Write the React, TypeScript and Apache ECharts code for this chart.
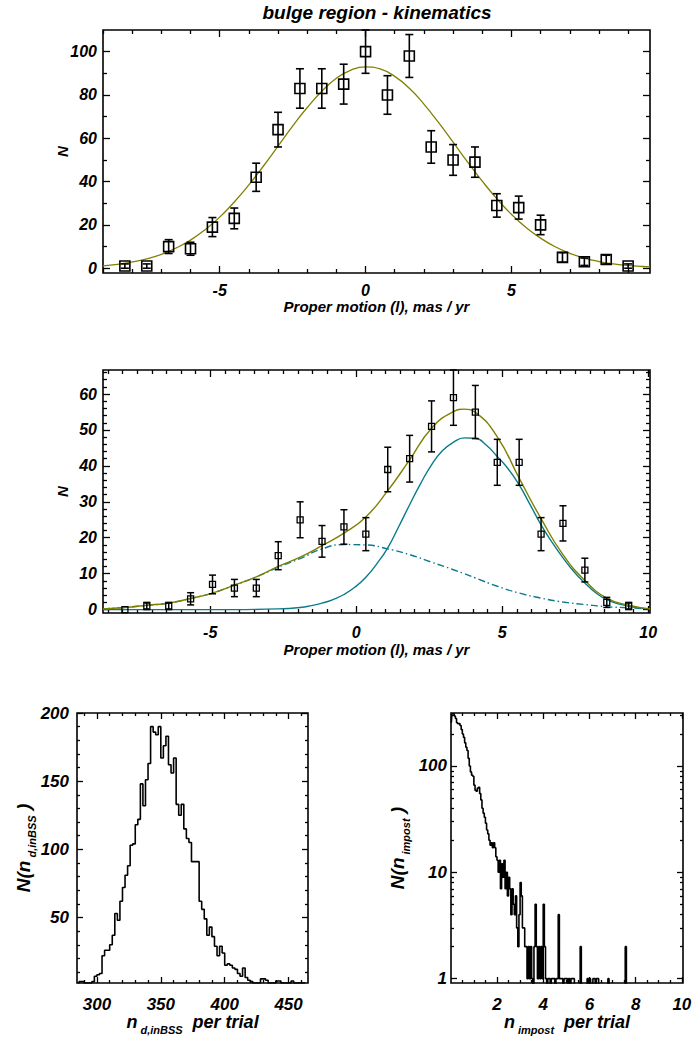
import React, { useEffect, useRef } from "react";
import * as echarts from "echarts";

const FONT = "'Liberation Sans', Helvetica, Arial, sans-serif";
const OLIVE = "#808000";
const TEAL = "#0b7b8b";

// ---------- Top panel: bulge region, proper motion (l) ----------
const topX = [-8.25, -7.5, -6.75, -6, -5.25, -4.5, -3.75, -3, -2.25, -1.5, -0.75, 0, 0.75, 1.5, 2.25, 3, 3.75, 4.5, 5.25, 6, 6.75, 7.5, 8.25, 9];
const topN = [1, 1, 10, 9, 19, 23, 42, 64, 83, 83, 85, 100, 80, 98, 56, 50, 49, 29, 28, 20, 5, 3, 4, 1];
const topErr = [1, 1, 3.2, 3, 4.4, 4.8, 6.5, 8, 9.1, 9.1, 9.2, 10, 8.9, 9.9, 7.5, 7.1, 7, 5.4, 5.3, 4.5, 2.2, 1.7, 2, 1];
const topFitX = [-9, -8.5, -8, -7.5, -7, -6.5, -6, -5.5, -5, -4.5, -4, -3.5, -3, -2.5, -2, -1.5, -1, -0.5, 0, 0.5, 1, 1.5, 2, 2.5, 3, 3.5, 4, 4.5, 5, 5.5, 6, 6.5, 7, 7.5, 8, 8.5, 9, 9.5, 9.75];
const topFitY = [1.1, 1.8, 2.9, 4.3, 6.4, 9.3, 13, 17.8, 23.6, 30.6, 38.5, 47.2, 56.4, 65.6, 74.2, 81.7, 87.7, 91.5, 93, 92, 88.6, 83.1, 75.8, 67.3, 58.2, 49, 40.2, 32.1, 24.9, 18.8, 13.9, 9.9, 6.9, 4.7, 3.1, 2, 1.3, 0.8, 0.6];

// ---------- Middle panel: two-component fit ----------
const midX = [-7.92, -7.17, -6.42, -5.67, -4.92, -4.17, -3.42, -2.67, -1.92, -1.17, -0.42, 0.33, 1.08, 1.83, 2.58, 3.33, 4.08, 4.83, 5.58, 6.33, 7.08, 7.83, 8.58, 9.33];
const midN = [0, 1, 1, 3, 7, 6, 6, 15, 25, 19, 23, 21, 39, 42, 51, 59, 55, 41, 41, 21, 24, 11, 2, 1];
const midErr = [0, 1, 1, 1.7, 2.6, 2.4, 2.4, 3.9, 5, 4.4, 4.8, 4.6, 6.2, 6.5, 7.1, 7.7, 7.4, 6.4, 6.4, 4.6, 4.9, 3.3, 1.4, 1];
const midCurveX = [-8.67, -7.92, -7.17, -6.42, -5.67, -4.92, -4.17, -3.42, -2.67, -1.92, -1.17, -0.42, 0.33, 1.08, 1.83, 2.58, 3.33, 3.7, 4.08, 4.83, 5.58, 6.33, 7.08, 7.83, 8.58, 9.33, 10.06];
const midTotal = [0.2, 0.6, 1.2, 1.8, 3.1, 4.6, 6.8, 9.1, 12.0, 14.6, 17.8, 21.3, 25.8, 33.1, 41.7, 50.5, 55.1, 55.8, 54.9, 48.1, 36.6, 25.3, 15.3, 8.1, 3.2, 1.2, 0.2];
const midBroad = [0.2, 0.6, 1.2, 1.8, 3.1, 4.6, 6.8, 9.1, 11.8, 14.2, 16.9, 18.1, 18.0, 16.9, 15.3, 13.2, 11.1, 10.0, 8.8, 6.5, 4.6, 3.2, 2.1, 1.4, 0.8, 0.5, 0.2];
const midNarrowX = [-8.67, -6.42, -4.17, -2.67, -1.92, -1.54, -1.17, -0.79, -0.42, -0.05, 0.33, 0.71, 1.08, 1.45, 1.83, 2.2, 2.58, 2.95, 3.33, 3.7, 4.08, 4.45, 4.83, 5.2, 5.58, 5.95, 6.33, 6.7, 7.08, 7.45, 7.83, 8.2, 8.58, 9.33, 10.06];
const midNarrow = [0, 0, 0, 0.2, 0.6, 1.1, 1.8, 2.8, 4.2, 6.2, 9.0, 12.8, 17.2, 23, 29.2, 35, 40.3, 44.2, 46.6, 47.8, 47.7, 45.8, 42.6, 39.2, 34.7, 29.3, 23.6, 18.8, 14.4, 10.6, 7.4, 4.7, 2.8, 0.9, 0.2];

// ---------- Bottom-left histogram: n_d,inBSS per trial ----------
const leftBinStart = 284;
const leftBinWidth = 2;
const leftCounts = [
  2, 3, 3, 2, 2, 2, 3, 7, 8, 9,
  22, 26, 26, 30, 37, 53, 48, 62, 72, 81,
  88, 103, 104, 118, 122, 148, 132, 151, 163, 190,
  186, 184, 190, 167, 176, 183, 162, 156, 167, 133,
  125, 133, 115, 108, 105, 91, 91, 91, 62, 56,
  49, 37, 43, 36, 29, 22, 29, 24, 15, 16,
  15, 13, 12, 9, 7, 13, 6, 4, 3, 2,
  2, 2, 5, 5, 4, 2, 2, 2, 3.5, 3.5,
  2, 2, 2, 2, 3.5, 2, 2, 2, 2, 2,
];

// ---------- Bottom-right histogram: n_impost per trial (log) ----------
// empty bins (0 counts) are written as 0.5 so they fall below the log axis floor
const rightBinWidth = 0.05;
const rightCounts = [
  255, 310, 310, 295, 280, 255, 250, 250, 240, 220,
  200, 186, 165, 150, 140, 118, 100, 88, 82, 80,
  66, 59, 58, 62, 63, 55, 48, 40, 36, 33,
  29, 25, 23, 20, 18, 19, 17, 19, 17, 14,
  13, 10, 13, 7, 12, 9, 13, 7, 10, 6,
  9, 7, 4, 7, 5, 4, 6, 3, 2, 4,
  8, 6, 3, 3, 2, 2, 1, 2, 1, 2,
  1, 0.5, 2, 5, 2, 1, 2, 1, 2, 1,
  5, 2, 1, 0.5, 1, 1, 0.5, 1, 1, 1,
  0.5, 1, 1, 4, 1, 1, 1, 0.5, 1, 1,
  1, 0.5, 1, 0.5, 1, 1, 1, 0.5, 0.5, 0.5,
  0.5, 0.5, 2, 0.5, 0.5, 0.5, 0.5, 0.5, 1, 0.5,
  1, 0.5, 0.5, 1, 1, 0.5, 1, 1, 0.5, 0.5,
  0.5, 0.5, 0.5, 0.5, 0.5, 0.5, 1, 0.5, 0.5, 0.5,
  0.5, 0.5, 0.5, 0.5, 0.5, 0.5, 0.5, 0.5, 0.5, 0.5,
  0.5, 2, 0.5, 0.5, 0.5, 0.5, 0.5, 0.5, 0.5, 0.5,
];

// ---------- tick values ----------
const topXMajor = [-5, 0, 5];
const topYMajor = [0, 20, 40, 60, 80, 100];
const midXMajor = [-5, 0, 5, 10];
const midYMajor = [0, 10, 20, 30, 40, 50, 60];
const leftXMajor = [300, 350, 400, 450];
const leftYMajor = [50, 100, 150, 200];
const rightXMajor = [2, 4, 6, 8, 10];
const rightYMajor = [1, 10, 100];
const rightYMinor = [2, 3, 4, 5, 6, 7, 8, 9, 20, 30, 40, 50, 60, 70, 80, 90, 200, 300];

function tickRange(a: number, b: number, d: number, exclude: number[]) {
  const out: number[] = [];
  for (let v = a; v <= b + 1e-9; v += d) {
    const r = Math.round(v * 1000) / 1000;
    if (!exclude.some((e) => Math.abs(e - r) < 1e-6)) out.push(r);
  }
  return out;
}

const TXT = { fontFamily: FONT, fontWeight: "bold", fontStyle: "italic", color: "#000" };

function richName(size: number, subSize: number) {
  return {
    ...TXT,
    fontSize: size,
    rich: {
      m: { ...TXT, fontSize: size, verticalAlign: "top", lineHeight: size + 4 },
      s: { ...TXT, fontSize: subSize, verticalAlign: "bottom" },
    },
  };
}

function buildAxes(dim: "x" | "y", gridIndex: number, s: any) {
  const isX = dim === "x";
  const pos = isX ? ["bottom", "top"] : ["left", "right"];
  const common = {
    gridIndex,
    type: s.type,
    min: s.min,
    max: s.max,
    axisLine: { show: false, onZero: false },
    splitLine: { show: false },
    axisPointer: { show: false },
  };
  const tickStyle = { color: "#000", width: 1.3 };
  const mk = (p: string, values: number[], len: number, main: boolean) => {
    const ax: any = {
      ...common,
      position: p,
      axisTick: { show: true, inside: true, length: len, customValues: values, lineStyle: tickStyle },
      axisLabel: main
        ? {
            show: true,
            customValues: s.labels,
            margin: s.labelMargin,
            ...TXT,
            fontSize: s.labelSize,
            formatter: (v: number) => String(Math.round(v * 1000) / 1000),
          }
        : { show: false },
    };
    if (main && s.name) {
      ax.name = s.name;
      ax.nameLocation = "middle";
      ax.nameGap = s.nameGap;
      ax.nameRotate = isX ? 0 : 90;
      ax.nameTextStyle = s.nameStyle;
      ax.nameMoveOverlap = false;
    }
    return ax;
  };
  return [
    mk(pos[0], s.major, s.majorLen, true),
    mk(pos[0], s.minor, s.minorLen, false),
    mk(pos[1], s.major, s.majorLen, false),
    mk(pos[1], s.minor, s.minorLen, false),
  ];
}

function errorSeries(g: number, xs: number[], ns: number[], es: number[], cap: number, lw: number) {
  return {
    type: "custom",
    xAxisIndex: g * 4,
    yAxisIndex: g * 4,
    silent: true,
    z: 3,
    data: xs.map((x, i) => [x, ns[i], es[i]]),
    encode: { x: 0, y: 1 },
    renderItem: (_params: any, api: any) => {
      const x = api.value(0);
      const y = api.value(1);
      const e = api.value(2);
      if (!e) return { type: "group", children: [] };
      const lo = api.coord([x, y - e]);
      const hi = api.coord([x, y + e]);
      const style = { stroke: "#000", lineWidth: lw, fill: "none" };
      return {
        type: "group",
        children: [
          { type: "line", shape: { x1: lo[0], y1: lo[1], x2: hi[0], y2: hi[1] }, style },
          { type: "line", shape: { x1: lo[0] - cap, y1: lo[1], x2: lo[0] + cap, y2: lo[1] }, style },
          { type: "line", shape: { x1: hi[0] - cap, y1: hi[1], x2: hi[0] + cap, y2: hi[1] }, style },
        ],
      };
    },
  };
}

function squareSeries(g: number, xs: number[], ns: number[], size: number, bw: number) {
  return {
    type: "scatter",
    xAxisIndex: g * 4,
    yAxisIndex: g * 4,
    silent: true,
    z: 4,
    symbol: "rect",
    symbolSize: size,
    data: xs.map((x, i) => [x, ns[i]]),
    itemStyle: { color: "rgba(0,0,0,0)", borderColor: "#000", borderWidth: bw, opacity: 1 },
  };
}

function curveSeries(g: number, xs: number[], ys: number[], color: string, type: any, width: number) {
  return {
    type: "line",
    xAxisIndex: g * 4,
    yAxisIndex: g * 4,
    silent: true,
    z: 2,
    smooth: 0.5,
    symbol: "none",
    data: xs.map((x, i) => [x, ys[i]]),
    lineStyle: { color, width, type },
  };
}

function histSeries(g: number, start: number, width: number, counts: number[]) {
  return {
    type: "line",
    xAxisIndex: g * 4,
    yAxisIndex: g * 4,
    silent: true,
    step: "middle",
    symbol: "none",
    clip: true,
    data: counts.map((c, i) => [start + (i + 0.5) * width, c]),
    lineStyle: { color: "#000", width: 1.6 },
  };
}

const gridBase = {
  show: true,
  borderColor: "#000",
  borderWidth: 1.6,
  backgroundColor: "transparent",
  containLabel: false,
  outerBoundsMode: "none",
};

export default function App() {
  const ref = useRef<HTMLDivElement>(null);
  useEffect(() => {
    if (!ref.current) return;
    const chart = echarts.init(ref.current, undefined, { renderer: "svg" });

    const specs = [
      {
        x: {
          type: "value", min: -9, max: 9.75, major: topXMajor, labels: topXMajor,
          minor: tickRange(-9, 9, 1, topXMajor), majorLen: 7, minorLen: 4,
          labelMargin: 9, labelSize: 16, name: "Proper motion (l), mas / yr", nameGap: 26,
          nameStyle: { ...TXT, fontSize: 15 },
        },
        y: {
          type: "value", min: -2.2, max: 110, major: topYMajor, labels: topYMajor,
          minor: tickRange(10, 100, 10, topYMajor), majorLen: 7, minorLen: 4,
          labelMargin: 6, labelSize: 16, name: "N", nameGap: 33,
          nameStyle: { ...TXT, fontSize: 15 },
        },
      },
      {
        x: {
          type: "value", min: -8.67, max: 10.06, major: midXMajor, labels: midXMajor,
          minor: tickRange(-8.5, 10, 0.5, midXMajor), majorLen: 7, minorLen: 4,
          labelMargin: 11, labelSize: 16, name: "Proper motion (l), mas / yr", nameGap: 29,
          nameStyle: { ...TXT, fontSize: 15 },
        },
        y: {
          type: "value", min: -0.95, max: 66.7, major: midYMajor, labels: midYMajor,
          minor: tickRange(2, 66, 2, midYMajor), majorLen: 7, minorLen: 4,
          labelMargin: 6, labelSize: 16, name: "N", nameGap: 33,
          nameStyle: { ...TXT, fontSize: 15 },
        },
      },
      {
        x: {
          type: "value", min: 284.4, max: 465.2, major: leftXMajor, labels: leftXMajor,
          minor: tickRange(290, 460, 10, leftXMajor), majorLen: 6, minorLen: 3,
          labelMargin: 13, labelSize: 17,
          name: "{m|n}{s| d,inBSS}{m|  per trial}", nameGap: 30, nameStyle: richName(18, 11),
        },
        y: {
          type: "value", min: 2, max: 200, major: leftYMajor, labels: leftYMajor,
          minor: tickRange(10, 190, 10, leftYMajor), majorLen: 6, minorLen: 3,
          labelMargin: 8, labelSize: 17,
          name: "{m|N(n}{s| d,inBSS}{m| )}", nameGap: 40, nameStyle: richName(19, 11),
        },
      },
      {
        x: {
          type: "value", min: 0.01, max: 10.05, major: rightXMajor, labels: rightXMajor,
          minor: tickRange(0.5, 9.5, 0.5, rightXMajor), majorLen: 6, minorLen: 3,
          labelMargin: 13, labelSize: 17,
          name: "{m|n}{s| impost}{m|  per trial}", nameGap: 30, nameStyle: richName(18, 11),
        },
        y: {
          type: "log", min: 0.91, max: 315, major: rightYMajor, labels: rightYMajor,
          minor: rightYMinor, majorLen: 6, minorLen: 3,
          labelMargin: 4, labelSize: 17,
          name: "{m|N(n}{s| impost}{m| )}", nameGap: 40, nameStyle: richName(19, 11),
        },
      },
    ];

    const grids = [
      { ...gridBase, left: 103, top: 30, width: 547, height: 243 },
      { ...gridBase, left: 103, top: 370, width: 547, height: 243 },
      { ...gridBase, left: 77, top: 713, width: 231, height: 270 },
      { ...gridBase, left: 451, top: 713, width: 232, height: 270 },
    ];

    const xAxis: any[] = [];
    const yAxis: any[] = [];
    specs.forEach((s, g) => {
      xAxis.push(...buildAxes("x", g, s.x));
      yAxis.push(...buildAxes("y", g, s.y));
    });

    const series: any[] = [
      curveSeries(0, topFitX, topFitY, OLIVE, "solid", 1.3),
      errorSeries(0, topX, topN, topErr, 4, 1.6),
      squareSeries(0, topX, topN, 10, 1.6),
      curveSeries(1, midCurveX, midBroad, TEAL, [7, 3, 1.5, 3], 1.4),
      curveSeries(1, midNarrowX, midNarrow, TEAL, "solid", 1.4),
      curveSeries(1, midCurveX, midTotal, OLIVE, "solid", 1.4),
      errorSeries(1, midX, midN, midErr, 3.5, 1.5),
      squareSeries(1, midX, midN, 6, 1.3),
      histSeries(2, leftBinStart, leftBinWidth, leftCounts),
      histSeries(3, 0, rightBinWidth, rightCounts),
    ];

    chart.setOption({
      animation: false,
      backgroundColor: "#fff",
      textStyle: { fontFamily: FONT },
      grid: grids,
      xAxis,
      yAxis,
      series,
      graphic: [
        {
          type: "text",
          x: 377,
          y: 12,
          style: {
            text: "bulge region - kinematics",
            fill: "#000",
            font: "italic bold 19px 'Liberation Sans', Arial, sans-serif",
            textAlign: "center",
            textVerticalAlign: "middle",
          },
        },
      ],
    });
    return () => chart.dispose();
  }, []);

  return (
    <div
      ref={ref}
      style={{ position: "fixed", left: 0, top: 0, width: 694, height: 1043, background: "#fff" }}
    />
  );
}
